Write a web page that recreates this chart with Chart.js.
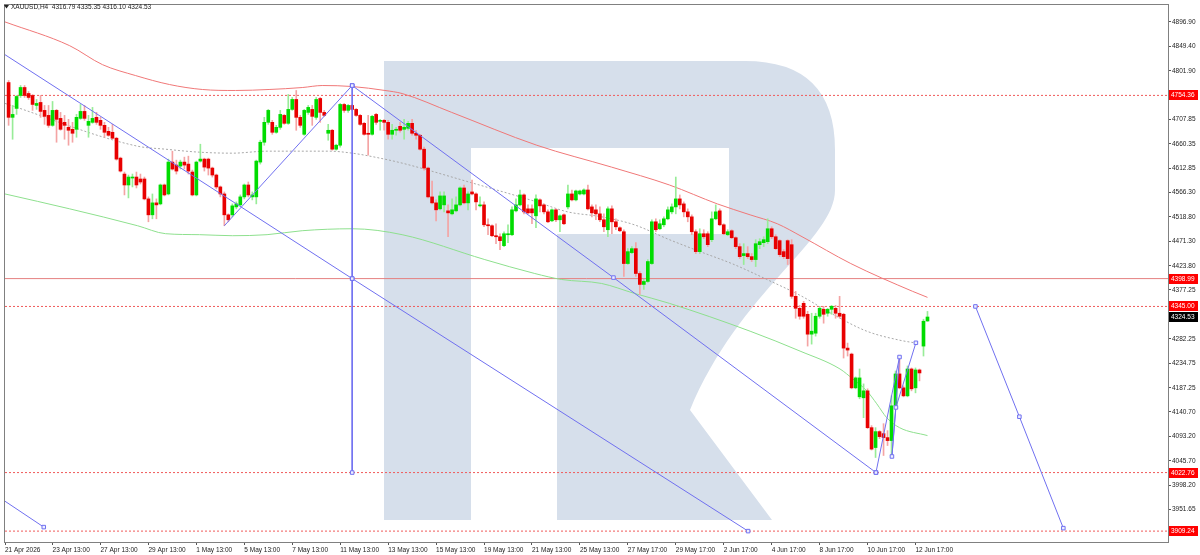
<!DOCTYPE html>
<html>
<head>
<meta charset="utf-8">
<script src="https://cdn.jsdelivr.net/npm/chart.js@4.4.1/dist/chart.umd.min.js"></script>
<style>
  html, body { margin: 0; padding: 0; background: #fff; }
  #wrap { position: relative; width: 1200px; height: 555px; }
</style>
</head>
<body>
<div id="wrap"><canvas id="chart"></canvas></div>
<script>
// XAUUSD H4 candles, bar 0 = first full bar on the left
const opens = [4779.3,4711.8,4729.1,4754.2,4769.7,4758.1,4754.2,4734.9,4740.7,4725.3,4715.6,4696.3,4725.3,4709.8,4702.1,4692.4,4688.6,4688.6,4709.8,4723.3,
  4696.3,4702.1,4711.8,4706.0,4696.3,4684.7,4682.8,4671.3,4632.7,4601.8,4580.6,4594.1,4596.0,4592.2,4592.2,4553.6,4522.7,4545.9,4543.9,4580.6,
  4563.2,4625.0,4619.2,4617.2,4625.0,4621.1,4605.7,4561.3,4626.9,4630.8,4630.8,4613.4,4599.9,4576.8,4563.2,4522.7,4522.7,4538.1,4542.0,4557.5,
  4580.6,4557.5,4557.5,4625.0,4663.5,4702.1,4702.1,4682.8,4692.4,4715.6,4700.2,4727.2,4746.5,4711.8,4678.9,4721.4,4727.2,4711.8,4748.4,4721.4,
  4680.9,4686.7,4650.0,4657.7,4736.8,4725.3,4734.9,4727.2,4715.6,4700.2,4680.9,4678.9,4717.5,4704.0,4706.0,4702.1,4678.9,4686.7,4694.4,4688.6,
  4690.5,4700.2,4680.9,4677.0,4650.0,4613.4,4557.5,4545.9,4534.3,4542.0,4530.4,4524.6,4530.4,4542.0,4574.8,4545.9,4567.1,4563.2,4540.1,4542.0,
  4503.4,4501.5,4482.2,4480.2,4462.9,4484.1,4484.1,4530.4,4542.0,4561.3,4534.3,4534.3,4520.8,4551.7,4542.0,4528.5,4511.1,4532.4,4513.1,4522.7,
  4538.1,4563.2,4551.7,4563.2,4563.2,4570.9,4538.1,4532.4,4524.6,4513.1,4493.8,4534.3,4509.2,4497.6,4489.9,4428.2,4449.4,4457.1,4408.9,4387.7,
  4393.5,4428.2,4509.2,4495.7,4503.4,4515.0,4528.5,4538.1,4553.6,4543.9,4528.5,4518.8,4489.9,4451.3,4486.0,4486.0,4474.5,4515.0,4530.4,4503.4,
  4484.1,4491.8,4478.3,4461.0,4443.6,4447.5,4441.6,4435.9,4464.8,4468.7,4470.6,4495.7,4480.2,4472.6,4451.3,4472.6,4464.8,4364.6,4341.4,4351.0,
  4329.8,4291.2,4293.1,4326.0,4339.5,4331.8,4339.5,4341.4,4331.8,4329.8,4264.2,4252.6,4187.1,4169.7,4167.8,4181.3,4109.9,4071.3,4102.2,4098.3,
  4090.6,4084.8,4152.3,4214.1,4187.1,4171.6,4223.7,4187.1,4221.8,4268.1,4316.79];
const highs = [4783.2,4734.9,4754.2,4773.5,4773.5,4761.9,4756.1,4746.5,4754.2,4734.9,4734.9,4742.6,4727.2,4721.4,4715.6,4707.9,4702.1,4717.5,4736.8,4734.9,
  4715.6,4731.1,4721.4,4711.8,4702.1,4692.4,4698.2,4673.2,4634.6,4605.7,4599.9,4601.8,4605.7,4601.8,4596.0,4557.5,4563.2,4553.6,4582.5,4582.5,
  4630.8,4646.1,4628.8,4628.8,4634.6,4636.5,4609.5,4626.9,4659.7,4632.7,4632.7,4615.3,4601.8,4578.7,4567.1,4524.6,4543.9,4547.8,4561.3,4582.5,
  4586.4,4567.1,4628.8,4667.4,4711.8,4727.2,4706.0,4696.3,4725.3,4717.5,4756.1,4750.4,4763.9,4715.6,4727.2,4734.9,4734.9,4750.4,4750.4,4725.3,
  4698.2,4688.6,4659.7,4738.8,4738.8,4736.8,4736.8,4729.1,4717.5,4702.1,4715.6,4715.6,4719.4,4707.9,4707.9,4706.0,4698.2,4692.4,4702.1,4707.9,
  4704.0,4707.9,4686.7,4678.9,4653.9,4615.3,4588.3,4551.7,4567.1,4567.1,4542.0,4553.6,4557.5,4576.8,4580.6,4567.1,4590.2,4565.2,4557.5,4547.8,
  4515.0,4503.4,4505.4,4486.0,4489.9,4503.4,4538.1,4553.6,4570.9,4563.2,4542.0,4542.0,4561.3,4553.6,4543.9,4532.4,4534.3,4534.3,4522.7,4524.6,
  4580.6,4570.9,4570.9,4570.9,4572.9,4580.6,4542.0,4542.0,4538.1,4524.6,4538.1,4540.1,4515.0,4499.5,4493.8,4457.1,4461.0,4468.7,4412.8,4397.4,
  4435.9,4513.1,4515.0,4513.1,4518.8,4538.1,4543.9,4596.0,4561.3,4547.8,4534.3,4522.7,4493.8,4495.7,4493.8,4489.9,4528.5,4542.0,4534.3,4505.4,
  4493.8,4493.8,4480.2,4466.7,4466.7,4461.0,4447.5,4474.5,4476.4,4480.2,4515.0,4499.5,4484.1,4474.5,4455.2,4474.5,4474.5,4374.2,4347.1,4354.9,
  4335.6,4331.8,4331.8,4345.3,4345.3,4341.4,4347.1,4347.1,4364.6,4331.8,4273.9,4254.5,4208.3,4223.7,4194.8,4185.2,4113.8,4109.9,4104.1,4117.6,
  4104.1,4171.6,4219.9,4244.9,4191.0,4229.5,4225.7,4225.7,4223.7,4320.2,4335.35];
const lows = [4696.3,4669.3,4717.5,4750.4,4750.4,4746.5,4725.3,4727.2,4711.8,4698.2,4692.4,4694.4,4663.5,4686.7,4669.3,4657.7,4663.5,4673.2,4707.9,4706.0,
  4673.2,4700.2,4698.2,4688.6,4673.2,4675.1,4669.3,4628.8,4605.7,4561.3,4555.5,4576.8,4574.8,4582.5,4551.7,4509.2,4515.0,4515.0,4542.0,4559.4,
  4561.3,4609.5,4601.8,4611.5,4611.5,4601.8,4559.4,4559.4,4625.0,4607.6,4599.9,4596.0,4572.9,4557.5,4501.5,4509.2,4518.8,4534.3,4540.1,4553.6,
  4557.5,4551.7,4543.9,4621.1,4657.7,4698.2,4678.9,4680.9,4688.6,4698.2,4698.2,4725.3,4686.7,4692.4,4677.0,4717.5,4696.3,4707.9,4702.1,4713.7,
  4667.4,4648.1,4648.1,4653.9,4721.4,4721.4,4725.3,4713.7,4696.3,4677.0,4638.5,4677.0,4698.2,4686.7,4686.7,4669.3,4669.3,4677.0,4682.8,4669.3,
  4686.7,4677.0,4669.3,4648.1,4609.5,4555.5,4543.9,4511.1,4532.4,4528.5,4480.2,4522.7,4528.5,4540.1,4543.9,4532.4,4561.3,4532.4,4538.1,4499.5,
  4484.1,4480.2,4466.7,4455.2,4461.0,4468.7,4482.2,4528.5,4540.1,4524.6,4524.6,4505.4,4497.6,4528.5,4524.6,4507.3,4509.2,4509.2,4489.9,4503.4,
  4534.3,4549.7,4549.7,4561.3,4561.3,4532.4,4518.8,4513.1,4509.2,4489.9,4480.2,4486.0,4493.8,4489.9,4403.2,4426.3,4447.5,4403.2,4368.4,4378.0,
  4391.6,4426.3,4489.9,4493.8,4499.5,4513.1,4524.6,4524.6,4534.3,4518.8,4509.2,4484.1,4447.5,4447.5,4476.4,4461.0,4470.6,4513.1,4501.5,4484.1,
  4482.2,4476.4,4457.1,4437.8,4426.3,4437.8,4432.1,4422.4,4457.1,4461.0,4466.7,4476.4,4455.2,4441.6,4437.8,4426.3,4360.7,4322.1,4320.2,4322.1,
  4268.1,4271.9,4287.4,4322.1,4312.5,4326.0,4329.8,4322.1,4322.1,4244.9,4248.8,4185.2,4185.2,4165.9,4129.2,4108.0,4066.4,4052.0,4088.7,4055.9,
  4075.2,4052.0,4148.5,4185.2,4169.7,4169.7,4181.3,4177.4,4200.6,4248.8,4316.10];
const closes = [4711.8,4717.5,4752.3,4769.7,4754.2,4750.4,4736.8,4738.8,4723.3,4713.7,4696.3,4725.3,4707.9,4688.6,4696.3,4686.7,4680.9,4711.8,4723.3,4709.8,
  4704.0,4709.8,4702.1,4696.3,4682.8,4677.0,4671.3,4630.8,4607.6,4580.6,4596.0,4596.0,4580.6,4586.4,4553.6,4522.7,4545.9,4542.0,4580.6,4561.3,
  4625.0,4611.5,4607.6,4625.0,4619.2,4607.6,4561.3,4625.0,4630.8,4615.3,4613.4,4599.9,4576.8,4563.2,4522.7,4513.1,4540.1,4543.9,4557.5,4580.6,
  4561.3,4561.3,4626.9,4663.5,4702.1,4725.3,4682.8,4692.4,4717.5,4700.2,4727.2,4746.5,4711.8,4696.3,4725.3,4731.1,4713.7,4746.5,4721.4,4715.6,
  4686.7,4650.0,4657.7,4736.8,4725.3,4734.9,4727.2,4715.6,4698.2,4678.9,4678.9,4713.7,4702.1,4706.0,4702.1,4678.9,4686.7,4688.6,4686.7,4692.4,
  4700.2,4680.9,4677.0,4650.0,4613.4,4557.5,4545.9,4532.4,4559.4,4559.4,4526.5,4532.4,4542.0,4574.8,4545.9,4563.2,4563.2,4547.8,4542.0,4503.4,
  4501.5,4482.2,4480.2,4472.6,4486.0,4486.0,4532.4,4542.0,4561.3,4528.5,4526.5,4526.5,4553.6,4540.1,4528.5,4509.2,4532.4,4513.1,4520.8,4505.4,
  4563.2,4551.7,4569.0,4569.0,4570.9,4534.3,4526.5,4524.6,4513.1,4499.5,4534.3,4509.2,4499.5,4491.8,4428.2,4451.3,4457.1,4408.9,4387.7,4393.5,
  4432.1,4509.2,4493.8,4505.4,4515.0,4532.4,4538.1,4553.6,4542.0,4528.5,4518.8,4489.9,4451.3,4486.0,4480.2,4464.8,4515.0,4528.5,4503.4,4486.0,
  4489.9,4478.3,4461.0,4441.6,4447.5,4441.6,4435.9,4466.7,4470.6,4474.5,4495.7,4480.2,4457.1,4445.5,4441.6,4437.8,4364.6,4341.4,4326.0,4326.0,
  4291.2,4297.0,4326.0,4341.4,4329.8,4339.5,4345.3,4331.8,4326.0,4264.2,4260.4,4187.1,4206.4,4206.4,4181.3,4109.9,4068.3,4102.2,4092.5,4090.6,
  4084.8,4152.3,4214.1,4187.1,4171.6,4223.7,4185.2,4221.8,4216.0,4316.3,4324.53];

// bottom axis: bar index of each time label
const xTickIdx = [-0.9, 11, 23, 35, 47, 59, 71, 83, 95, 107, 119, 131, 143, 155, 167, 179, 191, 203, 215, 227];
const xTickLabels = ['21 Apr 2026', '23 Apr 13:00', '27 Apr 13:00', '29 Apr 13:00', '1 May 13:00', '5 May 13:00', '7 May 13:00',
  '11 May 13:00', '13 May 13:00', '15 May 13:00', '19 May 13:00', '21 May 13:00', '25 May 13:00', '27 May 17:00',
  '29 May 17:00', '2 Jun 17:00', '4 Jun 17:00', '8 Jun 17:00', '10 Jun 17:00', '12 Jun 17:00'];
const yTickValues = [4896.90, 4849.40, 4801.90, 4707.85, 4660.35, 4612.85, 4566.30, 4518.80, 4471.30, 4423.80,
  4377.25, 4282.25, 4234.75, 4187.25, 4140.70, 4093.20, 4045.70, 3998.20, 3951.65];

// moving averages (bar index, price)
const maRedIdx = [-0.9, 15.3, 23.5, 31.8, 40.3, 48.5, 56.8, 65.2, 73.5, 78.5, 86.0, 94.2, 98.5, 110.9, 132.2, 150.9, 165.4, 177.4, 185.6, 192.4, 198.6, 210.8, 226.3, 230.0];
const maRedVals = [4896.9, 4850.7, 4814.0, 4792.8, 4775.4, 4765.8, 4763.9, 4765.8, 4769.6, 4773.5, 4771.6, 4763.9, 4758.0, 4721.4, 4657.7, 4615.3, 4580.6, 4543.9, 4522.7, 4505.4, 4480.3, 4428.2, 4374.2, 4362.6];
const maGreenIdx = [-0.9, 15.3, 32.3, 39.3, 47.8, 56.0, 64.7, 73.5, 86.0, 98.5, 119.2, 131.7, 138.4, 148.4, 156.6, 165.4, 185.6, 198.1, 208.1, 211.3, 214.8, 217.3, 219.8, 223.0, 230.0];
const maGreenVals = [4563.2, 4534.3, 4501.5, 4486.1, 4484.2, 4482.2, 4484.2, 4491.9, 4495.7, 4484.2, 4435.9, 4408.9, 4397.3, 4389.6, 4370.4, 4351.0, 4297.0, 4258.4, 4223.7, 4204.4, 4181.3, 4156.2, 4129.2, 4109.9, 4094.5];
const maMidIdx = [-0.9, 32.3, 39.3, 47.8, 56.0, 64.7, 80.2, 86.0, 91.7, 98.5, 115.2, 132.2, 139.9, 148.4, 156.6, 165.4, 173.1, 181.6, 189.8, 198.6, 206.3, 214.8, 223.0, 227.3];
const maMidVals = [4738.8, 4655.8, 4650.0, 4644.2, 4642.3, 4646.2, 4646.2, 4642.3, 4634.6, 4623.0, 4586.4, 4547.8, 4528.5, 4518.9, 4503.4, 4474.5, 4451.3, 4426.3, 4397.3, 4364.5, 4329.8, 4297.0, 4279.6, 4273.8];

// horizontal levels
const dottedLevels = [4754.36, 4345.00, 4022.76, 3909.24];
const solidLevel = 4398.99;
const lastPrice = 4324.53;

// blue pattern lines (bar index, price)
const waveAIdx = [-0.9, 86.0, 185.1],        waveAVals = [4833.3, 4399.0, 3909.2];
const waveBIdx = [86.0, 151.4, 217.1],       waveBVals = [4773.5, 4401.0, 4022.8];
const waveCIdx = [54.0, 86.0],               waveCVals = [4501.5, 4773.5];
const waveDIdx = [86.0, 86.0, 86.0],         waveDVals = [4773.5, 4399.0, 4022.8];
const waveEIdx = [-0.9, 8.8],                waveEVals = [3967.2, 3917.0];
const waveFIdx = [217.1, 223.0, 221.1, 222.1, 227.1], waveFVals = [4022.8, 4246.9, 4054.0, 4149.1, 4274.5];
const forecastIdx = [242.0, 253.0, 264.0],   forecastVals = [4345.0, 4131.1, 3915.0];

const X_MIN = -0.9, X_MAX = 290.2;
const Y_MIN = 3888.1, Y_MAX = 4929.7;
const BLUE = '#7070f0';
const FONT = 'Liberation Sans, Arial, sans-serif';

const pts = (idx, vals) => idx.map((x, i) => ({ x: x, y: vals[i] }));
const isUp = opens.map((o, i) => closes[i] >= o);

function blueLine(idx, vals, radii) {
    return {
        type: 'line',
        data: pts(idx, vals),
        borderColor: BLUE,
        borderWidth: 1,
        pointStyle: 'rect',
        pointRadius: radii,
        pointBorderColor: BLUE,
        pointBackgroundColor: '#eef0ff',
        pointBorderWidth: 1,
        tension: 0,
        order: 0
    };
}

function levelLine(v, color, dash) {
    return {
        type: 'line',
        data: [{ x: X_MIN, y: v }, { x: X_MAX, y: v }],
        borderColor: color,
        borderWidth: 1,
        borderDash: dash,
        pointRadius: 0,
        order: 5
    };
}

function maLine(idx, vals, color, dash) {
    return {
        type: 'line',
        data: pts(idx, vals),
        borderColor: color,
        borderWidth: 1,
        borderDash: dash,
        pointRadius: 0,
        cubicInterpolationMode: 'monotone',
        order: 3
    };
}

// RoboForex style "R" watermark behind the candles
const watermark = {
    id: 'watermark',
    beforeDatasetsDraw(chart) {
        const c = chart.ctx;
        c.save();
        c.fillStyle = '#d6dfeb';
        c.beginPath();
        c.moveTo(384, 61);
        c.lineTo(745, 61);
        c.quadraticCurveTo(835, 61, 835, 150);
        c.lineTo(835, 190);
        c.bezierCurveTo(835, 240, 740, 290, 690, 410);
        c.lineTo(772, 520);
        c.lineTo(557, 520);
        c.lineTo(557, 234);
        c.lineTo(729, 234);
        c.lineTo(729, 148);
        c.lineTo(471, 148);
        c.lineTo(471, 520);
        c.lineTo(384, 520);
        c.closePath();
        c.fill();
        c.restore();
    }
};

// frame, header and price boxes on the right axis
const overlay = {
    id: 'overlay',
    afterDraw(chart) {
        const c = chart.ctx;
        const a = chart.chartArea;
        const ys = chart.scales.y;
        c.save();
        c.strokeStyle = '#808080';
        c.lineWidth = 1;
        c.strokeRect(a.left - 0.5, a.top - 0.5, a.right - a.left + 1, a.bottom - a.top + 1);

        const n = opens.length - 1;
        c.fillStyle = '#222';
        c.beginPath();
        c.moveTo(4, 5); c.lineTo(9, 5); c.lineTo(6.5, 8.5); c.closePath();
        c.fill();
        c.font = '6.5px ' + FONT;
        c.textBaseline = 'middle';
        c.textAlign = 'left';
        c.fillText('XAUUSD,H4  ' + opens[n].toFixed(2) + ' ' + highs[n].toFixed(2) + ' ' +
            lows[n].toFixed(2) + ' ' + closes[n].toFixed(2), 11, 7);

        const box = (v, bg) => {
            const y = Math.round(ys.getPixelForValue(v));
            c.fillStyle = bg;
            c.fillRect(a.right + 1, y - 5, 29, 10);
            c.fillStyle = '#fff';
            c.fillText(v.toFixed(2), a.right + 3, y + 0.5);
        };
        box(dottedLevels[0], '#ff0000');
        box(solidLevel, '#ff0000');
        box(dottedLevels[1], '#ff0000');
        box(lastPrice, '#000000');
        box(dottedLevels[2], '#ff0000');
        box(dottedLevels[3], '#ff0000');
        c.restore();
    }
};

const ctx = document.getElementById('chart').getContext('2d');
new Chart(ctx, {
    type: 'bar',
    data: {
        datasets: [
            blueLine(waveAIdx, waveAVals, [0, 2.5, 2.5]),
            blueLine(waveBIdx, waveBVals, [2.5, 2.5, 2.5]),
            blueLine(waveCIdx, waveCVals, [0, 2.5]),
            blueLine(waveDIdx, waveDVals, [2.5, 2.5, 2.5]),
            blueLine(waveEIdx, waveEVals, [0, 2.5]),
            blueLine(waveFIdx, waveFVals, [2.5, 2.5, 2.5, 2.5, 2.5]),
            blueLine(forecastIdx, forecastVals, [2.5, 2.5, 2.5]),
            {
                // candle bodies
                data: opens.map((o, i) => ({ x: i, y: [o, closes[i]] })),
                backgroundColor: isUp.map(u => u ? '#00dc00' : '#e80000'),
                borderWidth: 0,
                barThickness: 3,
                minBarLength: 1,
                grouped: false,
                order: 1
            },
            {
                // wicks
                data: lows.map((l, i) => ({ x: i, y: [l, highs[i]] })),
                backgroundColor: isUp.map(u => u ? '#98ec98' : '#f4a4a4'),
                borderWidth: 0,
                barThickness: 1,
                grouped: false,
                order: 2
            },
            maLine(maRedIdx, maRedVals, '#f07878', []),
            maLine(maGreenIdx, maGreenVals, '#8ee08e', []),
            maLine(maMidIdx, maMidVals, '#a8a8a8', [2, 2]),
            levelLine(solidLevel, '#e58080', []),
            ...dottedLevels.map(v => levelLine(v, '#f05a5a', [2, 2]))
        ]
    },
    options: {
        responsive: true,
        maintainAspectRatio: false,
        devicePixelRatio: 1,
        animation: false,
        layout: { padding: { left: 2, top: 2, right: 0, bottom: 0 } },
        plugins: {
            legend: { display: false },
            tooltip: { enabled: false }
        },
        scales: {
            x: {
                type: 'linear',
                min: X_MIN,
                max: X_MAX,
                offset: false,
                afterBuildTicks: s => { s.ticks = xTickIdx.map(v => ({ value: v })); },
                afterFit: s => { s.height = 13; },
                grid: { drawOnChartArea: false, offset: false, tickLength: 3, color: '#555' },
                border: { color: '#808080' },
                ticks: {
                    autoSkip: false,
                    maxRotation: 0,
                    align: 'start',
                    padding: 1,
                    color: '#222',
                    font: { family: FONT, size: 6.5 },
                    callback: (v, i) => xTickLabels[i]
                }
            },
            y: {
                position: 'right',
                min: Y_MIN,
                max: Y_MAX,
                afterBuildTicks: s => { s.ticks = yTickValues.map(v => ({ value: v })); },
                afterFit: s => { s.width = 32; },
                grid: { drawOnChartArea: false, tickLength: 3, color: '#555' },
                border: { color: '#808080' },
                ticks: {
                    autoSkip: false,
                    padding: 1,
                    color: '#222',
                    font: { family: FONT, size: 6.5 },
                    callback: v => Number(v).toFixed(2)
                }
            }
        }
    },
    plugins: [watermark, overlay]
});
</script>
</body>
</html>
